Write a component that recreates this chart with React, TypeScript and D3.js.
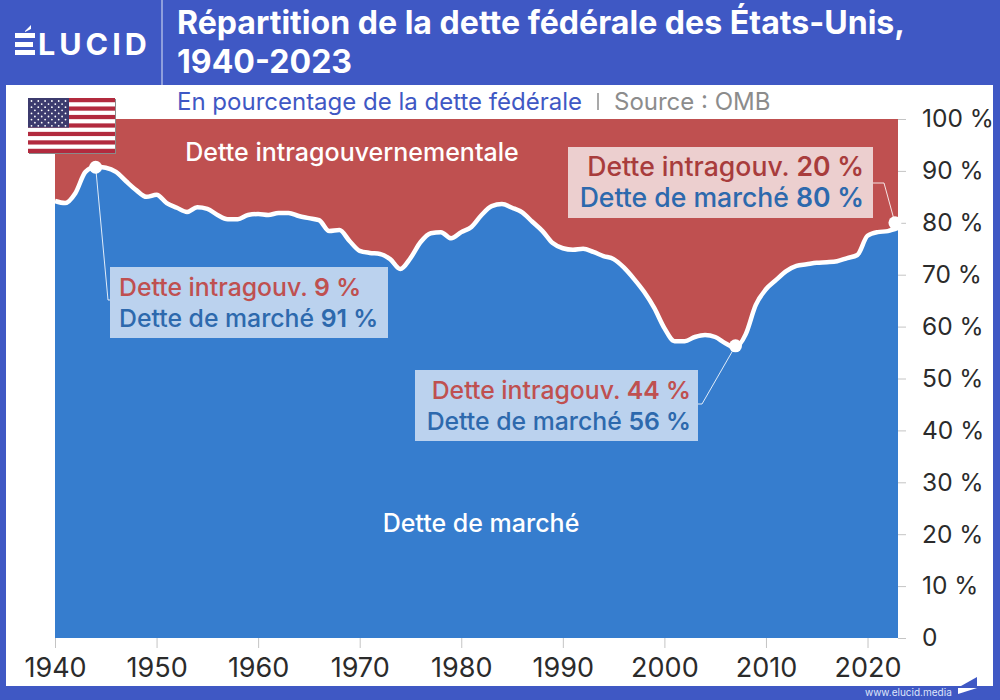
import React, { useEffect, useRef } from "react";
import { select, scaleLinear, area, line, curveMonotoneX, axisBottom, axisRight, range } from "d3";

const years = range(1940, 2024);
// part de la dette de marché, en %
const marketShare = [
  84.2, 83.8, 85.7, 89.8, 90.8, 90.6, 89.8, 88, 86.3, 85,
  85.4, 83.8, 82.9, 82.1, 83, 82.7, 81.5, 80.7, 80.7, 81.5,
  81.7, 81.5, 81.9, 81.9, 81.3, 80.9, 80.5, 78.4, 78.6, 76.5,
  74.6, 74.2, 74, 73, 71.1, 73.2, 76.3, 78, 78.2, 77,
  78.2, 79.2, 81.5, 83.2, 83.6, 82.9, 82, 80.2, 78.4, 76.1,
  75.1, 74.8, 75, 74.4, 73.6, 73, 71.4, 69.2, 66.7, 63.6,
  59.7, 57.2, 57.2, 58, 58.4, 58, 56.8, 56, 58.5, 64.2,
  67.2, 69, 70.7, 71.7, 72, 72.3, 72.4, 72.6, 73.2, 73.8,
  77.5, 78.2, 78.4, 79,
];
const xTicks = [1940, 1950, 1960, 1970, 1980, 1990, 2000, 2010, 2020];
const yTicks = [0, 10, 20, 30, 40, 50, 60, 70, 80, 90, 100];
const highlightYears = [1944, 2007, 2022.7];
const highlightValues = [90.7, 56.3, 80];

const BLUE = "#3f58c4";
const RED = "#bf5050";
const MARKET = "#367dce";
const FONT = "Inter, sans-serif";

const x = scaleLinear().domain([1940, 2023]).range([55, 898]);
const y = scaleLinear().domain([0, 100]).range([638, 119]);

const points: [number, number][] = years.map((d, i) => [d, marketShare[i]]);
const marketArea = area<[number, number]>()
  .x((d) => x(d[0]))
  .y0(y(0))
  .y1((d) => y(d[1]))
  .curve(curveMonotoneX);
const marketLine = line<[number, number]>()
  .x((d) => x(d[0]))
  .y((d) => y(d[1]))
  .curve(curveMonotoneX);

function Flag() {
  const fx = 28;
  const fy = 98;
  const w = 87;
  const h = 55;
  const sh = h / 13;
  return (
    <g>
      <rect x={fx + 1} y={fy + 1} width={w} height={h} fill="#8a8a8a" />
      <rect x={fx} y={fy} width={w} height={h} fill="#fff" />
      {range(0, 13, 2).map((i) => (
        <rect key={i} x={fx} y={fy + i * sh} width={w} height={sh} fill="#b22a3e" />
      ))}
      <rect x={fx} y={fy} width={41} height={sh * 7} fill="#3c3b6e" />
      {range(0, 9).map((r) =>
        range(0, r % 2 ? 5 : 6).map((c) => (
          <circle
            key={r + "-" + c}
            cx={fx + 3.5 + (r % 2 ? 3.4 : 0) + c * 6.8}
            cy={fy + 3 + r * 3.1}
            r={0.9}
            fill="#fff"
          />
        ))
      )}
    </g>
  );
}

function Note({ x0, y0, w, anchor, tx, intra, market, fill, intraColor, marketColor, size = 24.8 }: any) {
  return (
    <g fontFamily={FONT} fontSize={size} fontWeight={500} textAnchor={anchor}>
      <rect x={x0} y={y0} width={w} height={71} fill={fill} />
      <text x={tx} y={y0 + 29} fill={intraColor}>
        Dette intragouv. <tspan fontWeight={600}>{intra} %</tspan>
      </text>
      <text x={tx} y={y0 + 60} fill={marketColor}>
        Dette de marché <tspan fontWeight={600}>{market} %</tspan>
      </text>
    </g>
  );
}

export default function App() {
  const xAxisRef = useRef<SVGGElement>(null);
  const yAxisRef = useRef<SVGGElement>(null);

  useEffect(() => {
    const xAxis = axisBottom(x)
      .tickValues(xTicks)
      .tickSize(10)
      .tickPadding(10)
      .tickFormat((d: any) => String(d));
    const yAxis = axisRight(y)
      .tickValues(yTicks)
      .tickSize(8)
      .tickPadding(16)
      .tickFormat((d: any) => (d === 0 ? "0" : d + " %"));
    const gx = select(xAxisRef.current).call(xAxis as any);
    const gy = select(yAxisRef.current).call(yAxis as any);
    for (const g of [gx, gy] as any[]) {
      g.select(".domain").remove();
      g.selectAll("line").attr("stroke", "#c4c4c4");
      g.selectAll("text").attr("fill", "#2b2b2b").attr("font-family", FONT);
    }
    gx.selectAll("text").attr("font-size", 27);
    gy.selectAll("text").attr("font-size", 24.5);
  }, []);

  return (
    <svg width={1000} height={700} style={{ position: "absolute", left: 0, top: 0 }}>
      <rect width={1000} height={700} fill={BLUE} />
      <rect x={6} y={85} width={987} height={601} fill="#fff" />
      <line x1={162} x2={162} y1={0} y2={85} stroke="#dfe4f5" strokeWidth={1} />

      {/* logo */}
      <g fill="#fff">
        <path d="M15,33H35V38H15ZM15,42H33V47H15ZM15,50H35V55H15ZM25,31L31,25V29L25,32Z" />
        <text x={38} y={55} fontFamily={FONT} fontWeight={700} fontSize={30.5} letterSpacing={4}>
          LUCID
        </text>
      </g>

      <g fontFamily={FONT} fontWeight={700} fontSize={32.1} fill="#fff">
        <text x={177} y={34}>Répartition de la dette fédérale des États-Unis,</text>
        <text x={177} y={73}>1940-2023</text>
      </g>
      <text x={177} y={110} fontFamily={FONT} fontSize={24} fill={BLUE}>
        En pourcentage de la dette fédérale
      </text>
      <line x1={598} x2={598} y1={93} y2={110} stroke="#8c8c8c" strokeWidth={1.5} />
      <text x={614} y={110} fontFamily={FONT} fontSize={24} fill="#8c8c8c">
        Source : OMB
      </text>

      <rect x={x(1940)} y={y(100)} width={x(2023) - x(1940)} height={y(0) - y(100)} fill={RED} />
      <path d={marketArea(points) || ""} fill={MARKET} />
      <path d={marketLine(points) || ""} fill="none" stroke="#fff" strokeWidth={4.5} />

      <g ref={xAxisRef} transform={`translate(0,${y(0)})`} />
      <g ref={yAxisRef} transform={`translate(${x(2023)},0)`} />

      <Flag />

      <g fontFamily={FONT} fontSize={25} fontWeight={500} fill="#fff" textAnchor="middle">
        <text x={352} y={161}>Dette intragouvernementale</text>
        <text x={481} y={532}>Dette de marché</text>
      </g>

      {/* renvois */}
      <g fill="none" stroke="#fff" strokeWidth={1} opacity={0.85}>
        <path d={`M${x(1944)},${y(90.8)}L108,300H110`} />
        <path d={`M${x(2007)},${y(56.3)}L702,404H698`} />
        <path d={`M873,183H884L${x(2022.7)},${y(80)}`} />
      </g>
      {highlightYears.map((d, i) => (
        <circle key={d} cx={x(d)} cy={y(highlightValues[i])} r={6.5} fill="#fff" />
      ))}

      <Note x0={110} y0={267} w={278} anchor="start" tx={119} intra={9} market={91}
        fill="#bbd2ee" intraColor="#bf5050" marketColor="#2d69ad" />
      <Note x0={415} y0={370} w={283} anchor="end" tx={691} intra={44} market={56}
        fill="#bbd2ee" intraColor="#bf5050" marketColor="#2d69ad" />
      <Note x0={568} y0={147} w={305} anchor="end" tx={864} intra={20} market={80} size={26.6}
        fill="#eccfcf" intraColor="#a83c3c" marketColor="#2d69ad" />

      {/* pied de page */}
      <text x={865} y={696} fontFamily={FONT} fontSize={10} fill="#dfe6fa">
        www.elucid.media
      </text>
      <path d="M961,686L977,677V686Z" fill={BLUE} />
      <path d="M958,688H977L958,694Z" fill="#fff" />
    </svg>
  );
}
